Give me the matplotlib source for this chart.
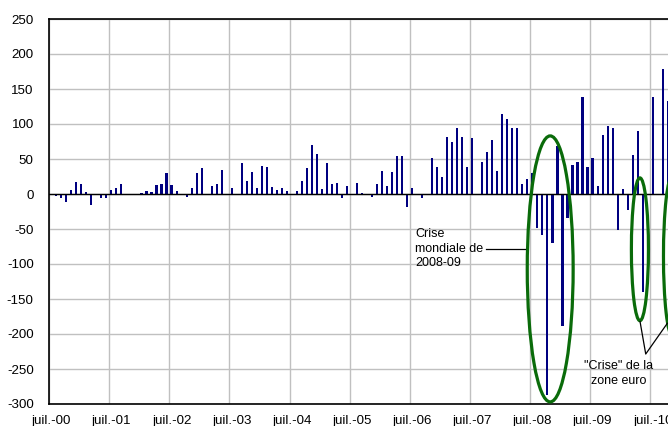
import matplotlib
matplotlib.use("Agg")
import matplotlib.pyplot as plt
from matplotlib.patches import Ellipse

plt.rcParams['font.family'] = ['Liberation Sans', 'DejaVu Sans']

# Monthly values starting July 2000
values = [
    -2, -3, -5, -12, 6, 17, 15, 3, -15, 0, -5, -6,
    6, 8, 14, -1, -1, 0, 1, 4, 3, 13, 15, 30,
    13, 5, -2, -4, 9, 30, 37, 0, 11, 15, 35, -1,
    8, -1, 44, 19, 32, 8, 40, 38, 10, 6, 9, 5,
    -2, 4, 18, 37, 70, 57, 7, 44, 14, 16, -6, 12,
    0, 16, 2, -2, -4, 14, 33, 12, 31, 55, 55, -18,
    8, 0, -6, 0, 52, 39, 24, 82, 75, 95, 82, 38,
    80, 0, 46, 60, 77, 33, 114, 107, 95, 94, 15, 21,
    30, -49, -59, -287, -70, 69, -189, -34, 41, 46, 138, 39,
    52, 11, 84, 97, 94, -51, 7, -23, 56, 90, -140, 0,
    139, -1, 178, 133,
]
year_labels = ['juil.-00', 'juil.-01', 'juil.-02', 'juil.-03', 'juil.-04', 'juil.-05',
               'juil.-06', 'juil.-07', 'juil.-08', 'juil.-09', 'juil.-10', 'juil.-11']
y_ticks = [-300, -250, -200, -150, -100, -50, 0, 50, 100, 150, 200, 250]
label_world = "Crise\nmondiale de\n2008-09"
label_euro = "\"Crise\" de la\nzone euro"

W, H = 668, 426
fig = plt.figure(figsize=(W / 100, H / 100), dpi=100)
n_months = 138
px_per_month = 5.012
ax = fig.add_axes([49 / W, (H - 404) / H, n_months * px_per_month / W, 385 / H])

x = [i + 0.45 for i in range(len(values))]
ax.bar(x, values, width=0.42, color='#000080', zorder=2)

ax.set_xlim(0, n_months)
ax.set_ylim(-300, 250)
ax.set_yticks(y_ticks)
ax.set_yticklabels([str(v) for v in y_ticks])

major = [12 * k for k in range(len(year_labels))]
ax.set_xticks(major)
ax.set_xticklabels([''] * len(major))
ax.set_xticks([m + 0.45 for m in major], minor=True)
ax.set_xticklabels(year_labels, minor=True)
ax.tick_params(axis='x', which='both', length=0)
ax.tick_params(axis='x', which='minor', pad=8, labelsize=9.6)
ax.tick_params(axis='y', length=0, pad=11, labelsize=9.6)

ax.grid(True, which='major', color='#c0c0c0', linewidth=1.0)
ax.set_axisbelow(True)
ax.axhline(0, color='black', linewidth=1.0, zorder=3)
for s in ax.spines.values():
    s.set_color('black')
    s.set_linewidth(1.2)

green = '#0a6b0a'
for (cx, cy, w, h) in [(100.0, -107, 9.16, 380), (117.9, -79, 3.4, 204), (124.4, -88.6, 3.6, 229)]:
    ax.add_patch(Ellipse((cx, cy), w, h, fill=False, edgecolor=green, linewidth=2.3, zorder=4))

ax.text(73.1, -78, label_world, ha='left', va='center', fontsize=9, linespacing=1.3, zorder=5)
ax.plot([87.25, 95.0], [-78.6, -78.6], color='black', linewidth=0.9, zorder=5)

ax.text(113.7, -257, label_euro, ha='center', va='center', fontsize=9, linespacing=1.35, zorder=5)
ax.plot([117.93, 119.06, 123.37], [-182.4, -228.6, -184.7], color='black', linewidth=0.9, zorder=5)

fig.savefig('out.png', dpi=100)
